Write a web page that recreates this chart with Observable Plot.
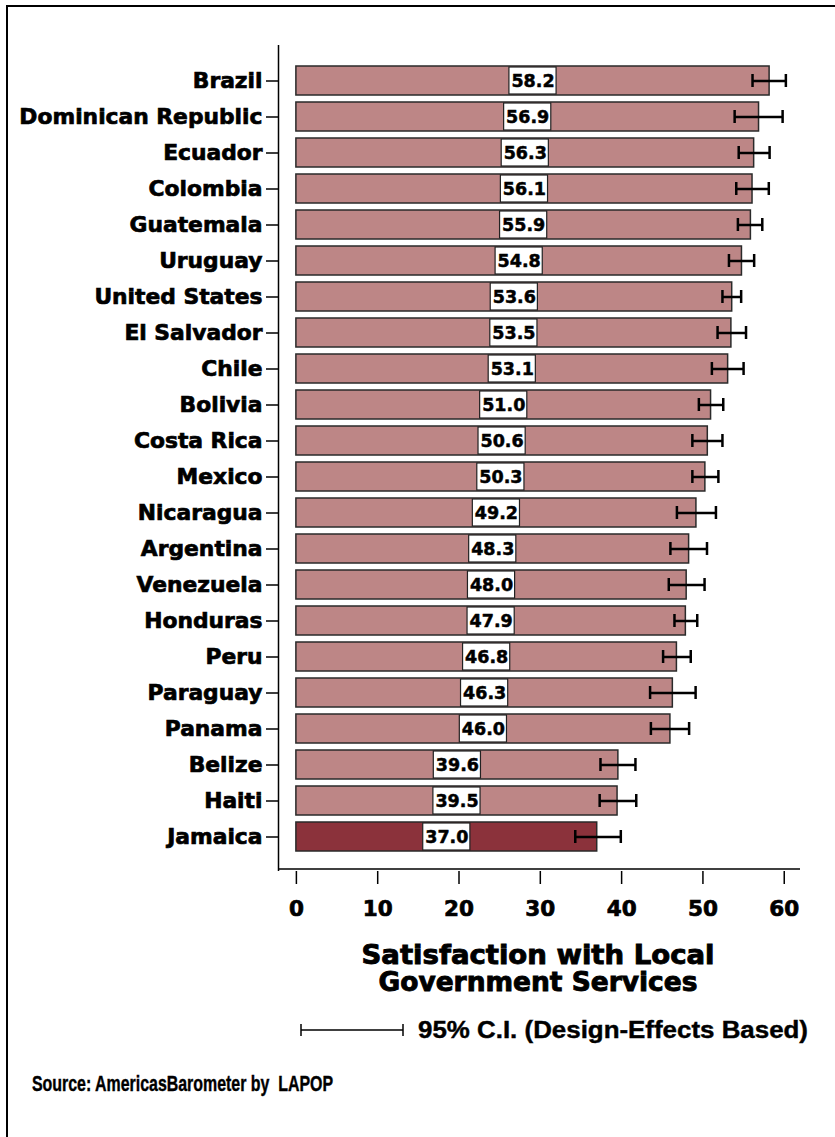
<!DOCTYPE html>
<html><head><meta charset="utf-8">
<script src="https://cdn.jsdelivr.net/npm/d3@7"></script>
<script src="https://cdn.jsdelivr.net/npm/@observablehq/plot@0.6"></script>
<style>
body{margin:0;background:#fff;}
#wrap{position:relative;width:835px;height:1137px;overflow:hidden;background:#fff;}
#frame{position:absolute;left:6px;top:5px;width:840px;height:1140px;border-top:2px solid #000;border-left:2px solid #000;pointer-events:none;}
#chart{position:absolute;left:0;top:0;}
#notes{position:absolute;left:0;top:0;}
</style></head><body>
<div id="wrap"><div id="chart"></div><svg id="notes" width="835" height="1137"></svg><div id="frame"></div></div>
<script>
const countries = ["Brazil","Dominican Republic","Ecuador","Colombia","Guatemala","Uruguay","United States","El Salvador","Chile","Bolivia","Costa Rica","Mexico","Nicaragua","Argentina","Venezuela","Honduras","Peru","Paraguay","Panama","Belize","Haiti","Jamaica"];
const values = [58.2,56.9,56.3,56.1,55.9,54.8,53.6,53.5,53.1,51.0,50.6,50.3,49.2,48.3,48.0,47.9,46.8,46.3,46.0,39.6,39.5,37.0];
const ciLow  = [56.1,53.9,54.4,54.1,54.3,53.2,52.4,51.8,51.1,49.5,48.7,48.7,46.8,46.0,45.8,46.5,45.1,43.5,43.6,37.4,37.3,34.3];
const ciHigh = [60.2,59.8,58.2,58.1,57.3,56.3,54.7,55.3,55.0,52.5,52.4,51.9,51.6,50.5,50.2,49.3,48.5,49.1,48.3,41.7,41.8,39.9];
const xTicks = [0,10,20,30,40,50,60];
const highlight = "Jamaica";
const titleLines = ["Satisfaction with Local","Government Services"];
const legendText = "95% C.I. (Design-Effects Based)";
const sourceText = "Source: AmericasBarometer by  LAPOP";

const data = countries.map((c,i)=>({country:c, value:values[i], lo:ciLow[i], hi:ciHigh[i]}));
const light = "#bd8686", dark = "#8b323b";
const font = "'DejaVu Sans', sans-serif";
const labelHalf = 2.9;

const chart = Plot.plot({
  width: 835, height: 930,
  marginLeft: 278, marginRight: 35, marginTop: 45, marginBottom: 59,
  style: {fontFamily: font, fontWeight: "bold", background: "transparent", color: "#000"},
  x: {domain: [-2.2, 62]},
  y: {domain: countries, paddingInner: 0.2, paddingOuter: 0.482},
  marks: [
    Plot.barX(data.filter(d => d.country !== highlight), {x: "value", y: "country", fill: light, stroke: "#2a2a2a", strokeWidth: 1.5}),
    Plot.barX(data.filter(d => d.country === highlight), {x: "value", y: "country", fill: dark, stroke: "#2a2a2a", strokeWidth: 1.5}),
    Plot.barX(data, {x1: d => d.value/2 - labelHalf, x2: d => d.value/2 + labelHalf, y: "country", fill: "white", stroke: "#222", strokeWidth: 1.2, insetTop: 1, insetBottom: 1}),
    Plot.text(data, {x: d => d.value/2, y: "country", text: d => d.value.toFixed(1), fontSize: 17.5, fontWeight: "bold", fill: "#000", stroke: "#000", strokeWidth: 0.5}),
    Plot.ruleY(data, {y: "country", x1: "lo", x2: "hi", stroke: "#000", strokeWidth: 2.5}),
    Plot.tickX(data, {x: "lo", y: "country", stroke: "#000", strokeWidth: 2.5, insetTop: 8, insetBottom: 8}),
    Plot.tickX(data, {x: "hi", y: "country", stroke: "#000", strokeWidth: 2.5, insetTop: 8, insetBottom: 8}),
    Plot.ruleX([-2.2], {stroke: "#000", strokeWidth: 1.5}),
    Plot.ruleY([highlight], {dy: 32, stroke: "#000", strokeWidth: 1.5}),
    Plot.axisY({tickSize: 12, tickPadding: 4, fontSize: 21.8, fontWeight: "bold", label: null, strokeWidth: 1.5}),
    Plot.axisX({ticks: xTicks, tickSize: 13, tickPadding: 16, fontSize: 21.5, fontWeight: "bold", label: null, strokeWidth: 1.5})
  ]
});
document.getElementById("chart").appendChild(chart);
d3.select(chart).selectAll('g[aria-label="y-axis tick label"] text, g[aria-label="x-axis tick label"] text')
  .attr("stroke", "#000").attr("stroke-width", 0.7).attr("paint-order", "stroke");

const notes = d3.select("#notes");
const titleLens = [353, 319];
titleLines.forEach((t, i) => {
  notes.append("text").attr("x", 538).attr("y", 964 + i*27).attr("text-anchor", "middle")
    .attr("font-family", font).attr("font-weight", "bold").attr("font-size", 26)
    .attr("stroke", "#000").attr("stroke-width", 0.9)
    .attr("textLength", titleLens[i]).attr("lengthAdjust", "spacingAndGlyphs").text(t);
});
const lg = notes.append("g").attr("stroke", "#000").attr("stroke-width", 1.5);
lg.append("line").attr("x1", 301).attr("x2", 403).attr("y1", 1030).attr("y2", 1030);
lg.append("line").attr("x1", 301).attr("x2", 301).attr("y1", 1024).attr("y2", 1036);
lg.append("line").attr("x1", 403).attr("x2", 403).attr("y1", 1024).attr("y2", 1036);
notes.append("text").attr("x", 418).attr("y", 1038).attr("font-family", "'Liberation Sans', Arial, sans-serif")
  .attr("font-weight", "bold").attr("font-size", 23).attr("stroke", "#000").attr("stroke-width", 0.4)
  .attr("textLength", 390).attr("lengthAdjust", "spacingAndGlyphs").text(legendText);
notes.append("text").attr("x", 32).attr("y", 1091).attr("font-family", "'Liberation Sans', Arial, sans-serif")
  .attr("font-weight", "bold").attr("font-size", 22).attr("stroke", "#000").attr("stroke-width", 0.4)
  .attr("textLength", 301).attr("lengthAdjust", "spacingAndGlyphs").attr("xml:space", "preserve").text(sourceText);
</script>
</body></html>
